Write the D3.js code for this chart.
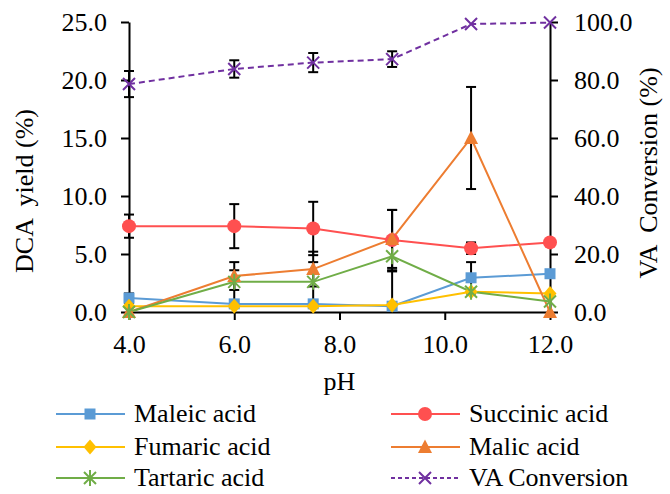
<!DOCTYPE html>
<html>
<head>
<meta charset="utf-8">
<script src="https://cdn.jsdelivr.net/npm/d3@7"></script>
<style>
  body { margin: 0; background: #fff; }
  svg text { font-family: "Liberation Serif", "Times New Roman", serif; fill: #000; }
</style>
</head>
<body>
<div id="chart"></div>
<script>
// chart size
const width = 670;
const height = 494;

// data
const ph = [4.0, 6.0, 7.5, 9.0, 10.5, 12.0];
const maleic = [1.2, 0.7, 0.7, 0.5, 2.95, 3.3];
const maleicErr = [0.4, 2.9, 3.6, 3.0, 1.35, 0];
const succinic = [7.4, 7.4, 7.2, 6.2, 5.5, 6.0];
const succinicErr = [1.0, 1.9, 2.3, 2.6, 0.5, 0];
const fumaric = [0.5, 0.5, 0.5, 0.6, 1.75, 1.6];
const malic = [0, 3.1, 3.7, 6.3, 15.0, 0];
const malicErr = [0, 1.2, 1.5, 2.5, 4.4, 0];
const tartaric = [0, 2.6, 2.6, 4.8, 1.75, 0.9];
const vaConv = [78.6, 83.8, 86.0, 87.2, 99.3, 99.8];
const vaErr = [4.5, 3.0, 3.3, 2.7, 0, 0];

const xTicks = [4, 6, 8, 10, 12];
const yLeftTicks = [0, 5, 10, 15, 20, 25];
const yRightTicks = [0, 20, 40, 60, 80, 100];

const series = [
  {name: "Maleic acid", values: maleic, err: maleicErr, color: "#5b9bd5", marker: "square", axis: "L"},
  {name: "Succinic acid", values: succinic, err: succinicErr, color: "#ff5050", marker: "circle", axis: "L"},
  {name: "Fumaric acid", values: fumaric, err: null, color: "#ffc000", marker: "diamond", axis: "L"},
  {name: "Malic acid", values: malic, err: malicErr, color: "#ed7d31", marker: "triangle", axis: "L"},
  {name: "Tartaric acid", values: tartaric, err: null, color: "#70ad47", marker: "star", axis: "L"},
  {name: "VA Conversion", values: vaConv, err: vaErr, color: "#7030a0", marker: "cross", axis: "R", dash: "6,4"}
];

const serif = "Liberation Serif";
const plotLeft = 129, plotRight = 550, plotTop = 22, plotBottom = 312;

const x = d3.scaleLinear().domain([4, 12]).range([plotLeft, plotRight]);
const yL = d3.scaleLinear().domain([0, 25]).range([plotBottom, plotTop]);
const yR = d3.scaleLinear().domain([0, 100]).range([plotBottom, plotTop]);

const svg = d3.select("#chart").append("svg")
  .attr("width", width)
  .attr("height", height)
  .attr("font-family", serif);

svg.append("clipPath").attr("id", "plotclip")
  .append("rect")
  .attr("x", plotLeft - 10).attr("y", plotTop - 10)
  .attr("width", plotRight - plotLeft + 20).attr("height", plotBottom - plotTop + 10);

// draws one marker centred at 0,0
function drawMarker(g, type, color) {
  if (type === "square") {
    g.append("rect").attr("x", -5.5).attr("y", -5.5).attr("width", 11).attr("height", 11).attr("fill", color);
  } else if (type === "circle") {
    g.append("circle").attr("r", 7).attr("fill", color);
  } else if (type === "diamond") {
    g.append("path").attr("d", "M0,-7.5L6.5,0L0,7.5L-6.5,0Z").attr("fill", color);
  } else if (type === "triangle") {
    g.append("path").attr("d", "M0,-7.5L7,6L-7,6Z").attr("fill", color);
  } else if (type === "star") {
    g.append("path").attr("d", "M-6,-6L6,6M-6,6L6,-6M0,-8L0,8")
      .attr("stroke", color).attr("stroke-width", 2).attr("fill", "none");
  } else if (type === "cross") {
    g.append("path").attr("d", "M-6,-6L6,6M-6,6L6,-6")
      .attr("stroke", color).attr("stroke-width", 2).attr("fill", "none");
  }
}

// error bars (behind lines and markers)
const errG = svg.append("g").attr("clip-path", "url(#plotclip)");
series.forEach(s => {
  if (!s.err) return;
  const y = s.axis === "L" ? yL : yR;
  ph.forEach((p, i) => {
    const e = s.err[i];
    if (!e) return;
    const cx = x(p);
    const y1 = y(s.values[i] + e), y2 = y(s.values[i] - e);
    errG.append("line").attr("x1", cx).attr("x2", cx).attr("y1", y1).attr("y2", y2)
      .attr("stroke", "#000").attr("stroke-width", 2);
    [y1, y2].forEach(yy => {
      errG.append("line").attr("x1", cx - 5).attr("x2", cx + 5).attr("y1", yy).attr("y2", yy)
        .attr("stroke", "#000").attr("stroke-width", 2);
    });
  });
});

// axes
const axisStyle = g => {
  g.attr("font-family", serif).attr("font-size", 26);
  g.selectAll("text").attr("font-family", serif).attr("font-size", 26);
  g.selectAll("line, path").attr("stroke", "#000").attr("stroke-width", 2);
};

svg.append("g")
  .attr("transform", `translate(${plotLeft},0)`)
  .call(d3.axisLeft(yL).tickValues(yLeftTicks).tickFormat(d3.format(".1f")).tickSize(8).tickSizeOuter(0).tickPadding(14))
  .call(axisStyle);

svg.append("g")
  .attr("transform", `translate(${plotRight},0)`)
  .call(d3.axisRight(yR).tickValues(yRightTicks).tickFormat(d3.format(".1f")).tickSize(8).tickSizeOuter(0).tickPadding(16))
  .call(axisStyle);

svg.append("g")
  .attr("transform", `translate(0,${plotBottom})`)
  .call(d3.axisBottom(x).tickValues(xTicks).tickFormat(d3.format(".1f")).tickSize(8).tickSizeOuter(0).tickPadding(15))
  .call(axisStyle);

// lines
series.forEach(s => {
  const y = s.axis === "L" ? yL : yR;
  const line = d3.line().x((d, i) => x(ph[i])).y(d => y(d));
  svg.append("path")
    .datum(s.values)
    .attr("d", line)
    .attr("fill", "none")
    .attr("stroke", s.color)
    .attr("stroke-width", 2)
    .attr("stroke-dasharray", s.dash || null);
});

// markers
series.forEach(s => {
  const y = s.axis === "L" ? yL : yR;
  s.values.forEach((v, i) => {
    const g = svg.append("g").attr("transform", `translate(${x(ph[i])},${y(v)})`);
    drawMarker(g, s.marker, s.color);
  });
});

// axis titles
svg.append("text")
  .attr("transform", "translate(33,191) rotate(-90)")
  .attr("text-anchor", "middle")
  .attr("font-size", 26)
  .style("white-space", "pre")
  .text("DCA  yield (%)");

svg.append("text")
  .attr("transform", "translate(657,173) rotate(-90)")
  .attr("text-anchor", "middle")
  .attr("font-size", 26)
  .style("white-space", "pre")
  .text("VA  Conversion (%)");

svg.append("text")
  .attr("x", (plotLeft + plotRight) / 2)
  .attr("y", 390)
  .attr("text-anchor", "middle")
  .attr("font-size", 26)
  .text("pH");

// legend, two columns
const legendRows = [414, 447, 478];
const legendCols = [56, 391];
series.forEach((s, i) => {
  const col = i % 2, row = Math.floor(i / 2);
  const g = svg.append("g").attr("transform", `translate(${legendCols[col]},${legendRows[row]})`);
  g.append("line").attr("x1", 0).attr("x2", 69).attr("y1", 0).attr("y2", 0)
    .attr("stroke", s.color).attr("stroke-width", 2).attr("stroke-dasharray", s.dash ? "4,3" : null);
  const m = g.append("g").attr("transform", "translate(34,0)");
  drawMarker(m, s.marker, s.color);
  g.append("text").attr("x", 78).attr("y", 8)
    .attr("font-size", 26)
    .text(s.name);
});
</script>
</body>
</html>
